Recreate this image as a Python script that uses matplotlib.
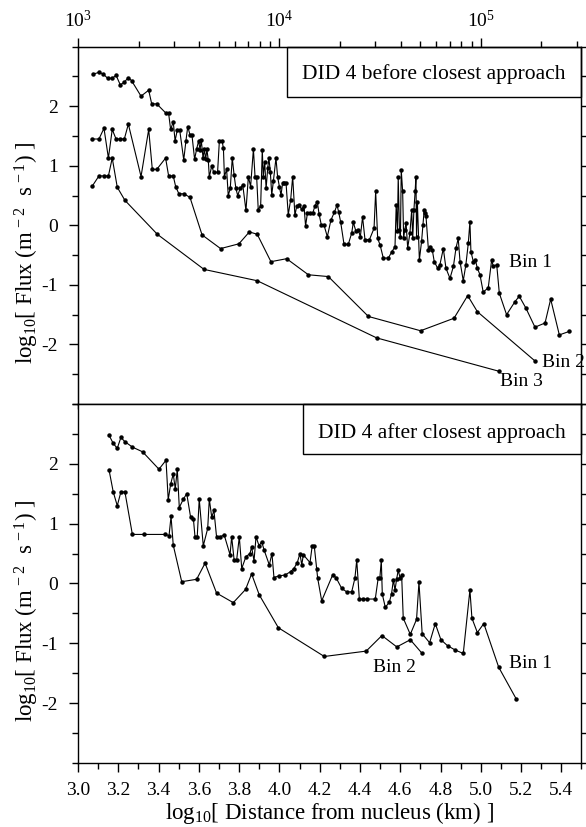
import numpy as np
import matplotlib
matplotlib.use('Agg')
import matplotlib.pyplot as plt
from matplotlib.patches import Rectangle
from matplotlib.ticker import MultipleLocator, LogLocator, NullFormatter, FormatStrFormatter

plt.rcParams['font.family'] = ['Liberation Serif', 'DejaVu Serif']
plt.rcParams['mathtext.fontset'] = 'custom'
plt.rcParams['mathtext.rm'] = 'Liberation Serif'
plt.rcParams['mathtext.it'] = 'Liberation Serif:italic'
plt.rcParams['axes.unicode_minus'] = False

# --- before closest approach ---
before_bin1_x = [3.076, 3.104, 3.126, 3.147, 3.170, 3.189, 3.210, 3.228, 3.250, 3.266,
                 3.313, 3.351, 3.366, 3.391, 3.435, 3.450, 3.460, 3.473, 3.482, 3.493,
                 3.505, 3.525, 3.536, 3.545, 3.556, 3.566, 3.579, 3.589, 3.599, 3.606,
                 3.612, 3.621, 3.627, 3.634, 3.640, 3.647, 3.652, 3.664, 3.674, 3.693,
                 3.702, 3.715, 3.722, 3.727, 3.738, 3.746, 3.756, 3.766, 3.775, 3.784,
                 3.793, 3.805, 3.818, 3.834, 3.846, 3.857, 3.871, 3.879, 3.887, 3.895,
                 3.907, 3.915, 3.920, 3.927, 3.934, 3.942, 3.948, 3.955, 3.962, 3.970,
                 3.983, 3.991, 4.000, 4.008, 4.016, 4.024, 4.033, 4.044, 4.056, 4.066,
                 4.077, 4.086, 4.097, 4.111, 4.122, 4.130, 4.139, 4.152, 4.165, 4.177,
                 4.188, 4.197, 4.208, 4.221, 4.238, 4.256, 4.273, 4.286, 4.294, 4.304,
                 4.321, 4.342, 4.359, 4.367, 4.380, 4.392, 4.402, 4.413, 4.425, 4.447,
                 4.470, 4.478, 4.488, 4.500, 4.516, 4.541, 4.557, 4.574, 4.580, 4.586,
                 4.590, 4.596, 4.601, 4.605, 4.612, 4.617, 4.622, 4.629, 4.637, 4.648,
                 4.657, 4.662, 4.668, 4.674, 4.678, 4.681, 4.685, 4.695, 4.706, 4.713,
                 4.719, 4.723, 4.728, 4.740, 4.748, 4.759, 4.769, 4.786, 4.797, 4.814,
                 4.827, 4.847, 4.864, 4.877, 4.888, 4.897, 4.913, 4.926, 4.938, 4.946,
                 4.951, 4.963, 4.973, 4.983, 4.996, 5.012, 5.037, 5.054, 5.062, 5.079,
                 5.092, 5.128, 5.170, 5.191, 5.224, 5.269, 5.319, 5.347, 5.390, 5.440]
before_bin1_y = [2.54, 2.57, 2.54, 2.47, 2.47, 2.52, 2.36, 2.40, 2.48, 2.43,
                 2.17, 2.27, 2.04, 2.04, 1.89, 1.88, 1.61, 1.74, 1.42, 1.60,
                 1.60, 1.10, 1.42, 1.66, 1.52, 1.51, 1.11, 1.28, 1.42, 1.27,
                 1.43, 1.13, 1.28, 1.11, 1.28, 1.09, 0.81, 1.00, 0.89, 0.89,
                 1.42, 1.42, 1.30, 0.82, 0.94, 0.50, 0.62, 1.13, 0.85, 0.62,
                 0.50, 0.62, 0.68, 0.25, 0.82, 0.65, 1.28, 0.82, 0.82, 0.26,
                 0.33, 1.27, 0.82, 1.07, 0.62, 0.96, 1.13, 0.90, 0.51, 0.74,
                 1.13, 0.82, 0.65, 0.51, 0.71, 0.71, 0.71, 0.18, 0.43, 0.82,
                 0.17, 0.32, 0.34, 0.27, 0.33, -0.01, 0.20, 0.20, 0.20, 0.33,
                 0.40, 0.19, 0.01, 0.01, -0.19, 0.09, 0.22, 0.34, 0.23, 0.06,
                 -0.32, -0.32, -0.13, 0.05, -0.10, -0.08, -0.19, 0.14, -0.24, -0.24,
                 -0.05, 0.57, -0.22, -0.33, -0.55, -0.55, -0.45, -0.36, 0.34, -0.10,
                 0.82, -0.08, -0.20, 0.93, 0.57, -0.22, -0.08, 0.04, -0.38, -0.13,
                 0.26, -0.22, 0.26, 0.57, 0.82, -0.19, 0.40, -0.58, -0.27, 0.01,
                 0.26, 0.20, 0.15, -0.41, -0.36, -0.41, -0.61, -0.72, -0.66, -0.39,
                 -0.72, -0.89, -0.69, -0.38, -0.22, -0.61, -0.93, -0.66, -0.30, 0.06,
                 -0.44, -0.61, -0.58, -0.72, -0.83, -1.12, -1.05, -0.58, -0.69, -0.66,
                 -1.14, -1.50, -1.28, -1.19, -1.39, -1.71, -1.64, -1.24, -1.84, -1.78]

before_bin2_x = [3.071, 3.104, 3.129, 3.151, 3.170, 3.189, 3.209, 3.230, 3.250, 3.313,
                 3.351, 3.369, 3.391, 3.435, 3.450, 3.473, 3.485, 3.501, 3.526, 3.556,
                 3.616, 3.708, 3.799, 3.851, 3.890, 3.958, 4.036, 4.144, 4.243, 4.442,
                 4.701, 4.867, 4.935, 4.983, 5.270]
before_bin2_y = [1.45, 1.45, 1.63, 1.13, 1.61, 1.45, 1.45, 1.45, 1.70, 0.82,
                 1.61, 0.94, 0.94, 1.13, 0.83, 0.83, 0.65, 0.53, 0.53, 0.47,
                 -0.16, -0.39, -0.31, -0.11, -0.15, -0.61, -0.56, -0.83, -0.86, -1.53,
                 -1.77, -1.56, -1.18, -1.45, -2.28]

before_bin3_x = [3.071, 3.104, 3.129, 3.151, 3.170, 3.195, 3.233, 3.394, 3.626, 3.890,
                 4.483, 5.090]
before_bin3_y = [0.66, 0.83, 0.83, 0.83, 1.13, 0.64, 0.42, -0.15, -0.74, -0.93,
                 -1.89, -2.45]

# --- after closest approach ---
after_bin1_x = [3.154, 3.175, 3.195, 3.213, 3.233, 3.270, 3.321, 3.402, 3.437, 3.448,
                3.460, 3.473, 3.483, 3.493, 3.503, 3.523, 3.540, 3.559, 3.573, 3.581,
                3.592, 3.602, 3.622, 3.644, 3.652, 3.664, 3.675, 3.688, 3.705, 3.726,
                3.755, 3.763, 3.775, 3.788, 3.801, 3.813, 3.834, 3.854, 3.862, 3.874,
                3.884, 3.899, 3.912, 3.924, 3.950, 3.963, 3.973, 4.000, 4.028, 4.056,
                4.072, 4.089, 4.102, 4.111, 4.119, 4.152, 4.163, 4.173, 4.185, 4.190,
                4.210, 4.264, 4.281, 4.309, 4.334, 4.359, 4.375, 4.384, 4.397, 4.417,
                4.437, 4.476, 4.491, 4.499, 4.506, 4.511, 4.526, 4.546, 4.557, 4.566,
                4.574, 4.582, 4.590, 4.599, 4.607, 4.615, 4.650, 4.681, 4.693, 4.709,
                4.746, 4.774, 4.802, 4.835, 4.872, 4.913, 4.946, 4.956, 4.983, 5.015,
                5.089, 5.176]
after_bin1_y = [2.48, 2.34, 2.26, 2.44, 2.37, 2.28, 2.20, 1.91, 2.06, 1.40,
                1.66, 1.83, 1.58, 1.91, 1.27, 1.41, 1.50, 1.11, 1.08, 0.78,
                0.78, 1.41, 0.63, 0.92, 1.41, 1.11, 1.22, 0.78, 0.78, 0.81,
                0.48, 0.78, 0.40, 0.40, 0.78, 0.25, 0.45, 0.50, 0.61, 0.38,
                0.78, 0.63, 0.70, 0.56, 0.31, 0.50, 0.10, 0.13, 0.14, 0.20,
                0.25, 0.35, 0.50, 0.31, 0.48, 0.35, 0.63, 0.63, 0.25, 0.09,
                -0.29, 0.14, 0.10, -0.08, -0.14, -0.14, 0.09, 0.39, -0.26, -0.26,
                -0.26, -0.26, 0.10, 0.10, 0.39, -0.18, -0.40, -0.31, -0.17, 0.06,
                -0.11, 0.07, 0.22, 0.10, 0.14, -0.58, -0.85, -0.60, 0.02, -0.84,
                -0.99, -0.67, -0.94, -1.04, -1.11, -1.17, -0.11, -0.58, -0.82, -0.67,
                -1.40, -1.93]

after_bin2_x = [3.154, 3.175, 3.195, 3.213, 3.233, 3.270, 3.328, 3.432, 3.452, 3.462,
                3.473, 3.515, 3.589, 3.631, 3.688, 3.771, 3.832, 3.862, 3.900, 3.995,
                4.223, 4.431, 4.509, 4.583, 4.650, 4.709]
after_bin2_y = [1.90, 1.53, 1.30, 1.53, 1.53, 0.82, 0.82, 0.82, 0.80, 1.12,
                0.64, 0.03, 0.07, 0.34, -0.16, -0.32, -0.10, 0.16, -0.19, -0.74,
                -1.22, -1.13, -0.87, -1.06, -0.94, -1.17]

FS = 14
FS_LAB = 16.5

fig = plt.figure(figsize=(5.86, 8.27), dpi=100)
L, R = 0.1331, 0.9923
ax1 = fig.add_axes([L, 0.5115, R - L, 0.9435 - 0.5115])
ax2 = fig.add_axes([L, 0.0774, R - L, 0.5115 - 0.0774])


def style(ax):
    ax.set_xlim(3.0, 5.5)
    ax.set_ylim(-3, 3)
    ax.set_yticks([-2, -1, 0, 1, 2])
    ax.yaxis.set_major_formatter(FormatStrFormatter('%d'))
    ax.yaxis.set_minor_locator(MultipleLocator(0.5))
    ax.tick_params(which='both', direction='out', width=1, labelsize=FS,
                   left=True, right=True)
    ax.tick_params(axis='y', which='major', length=6.5, pad=8)
    ax.tick_params(axis='y', which='minor', length=4.3)
    for s in ax.spines.values():
        s.set_linewidth(1)


def draw(ax, x, y):
    ax.plot(x, y, '-', color='k', lw=0.8, marker='o', ms=2.2)


def label_box(ax, x0, y0, tx, ty, text):
    ax.add_patch(Rectangle((x0, y0), 1 - x0, 1 - y0, transform=ax.transAxes,
                           fill=False, lw=1, ec='k', clip_on=False))
    ax.text(tx, ty, text, transform=ax.transAxes, ha='center', va='center',
            fontsize=15.5)


style(ax1)
style(ax2)

draw(ax1, before_bin1_x, before_bin1_y)
draw(ax1, before_bin2_x, before_bin2_y)
draw(ax1, before_bin3_x, before_bin3_y)
draw(ax2, after_bin1_x, after_bin1_y)
draw(ax2, after_bin2_x, after_bin2_y)

ax1.tick_params(axis='x', which='both', bottom=False, labelbottom=False)
ax2.set_xticks(np.arange(3.0, 5.41, 0.2))
ax2.xaxis.set_major_formatter(FormatStrFormatter('%.1f'))
ax2.xaxis.set_minor_locator(MultipleLocator(0.1))
ax2.tick_params(axis='x', which='major', length=6.5, pad=7)
ax2.tick_params(axis='x', which='minor', length=4.3)

# log-distance axis on top
axt = ax1.twiny()
axt.set_xscale('log')
axt.set_xlim(10 ** 3.0, 10 ** 5.5)
axt.xaxis.set_major_locator(LogLocator(base=10, numticks=10))
axt.xaxis.set_minor_locator(LogLocator(base=10, subs=np.arange(2, 10), numticks=20))
axt.xaxis.set_minor_formatter(NullFormatter())
axt.tick_params(which='both', direction='out', width=1, labelsize=FS)
axt.tick_params(which='major', length=6.5, pad=5)
axt.tick_params(which='minor', length=4.3)

label_box(ax1, 0.415, 0.860, 0.7075, 0.923, 'DID 4 before closest approach')
label_box(ax2, 0.446, 0.860, 0.7225, 0.918, 'DID 4 after closest approach')

ax1.text(5.248, -0.62, 'Bin 1', fontsize=FS, ha='center', va='center')
ax1.text(5.41, -2.30, 'Bin 2', fontsize=FS, ha='center', va='center')
ax1.text(5.20, -2.62, 'Bin 3', fontsize=FS, ha='center', va='center')
ax2.text(4.574, -1.41, 'Bin 2', fontsize=FS, ha='center', va='center')
ax2.text(5.247, -1.33, 'Bin 1', fontsize=FS, ha='center', va='center')

ylab = r'log$_{10}$[ Flux (m$^{\,-2}$  s$^{\,-1}$) ]'
fig.text(0.0455, 0.695, ylab, rotation=90, ha='center', va='center', fontsize=FS_LAB)
fig.text(0.0455, 0.261, ylab, rotation=90, ha='center', va='center', fontsize=FS_LAB)
fig.text(0.563, 0.0165, 'log$_{10}$[ Distance from nucleus (km) ]',
         ha='center', va='center', fontsize=FS_LAB)

fig.savefig('out.png', dpi=100)
